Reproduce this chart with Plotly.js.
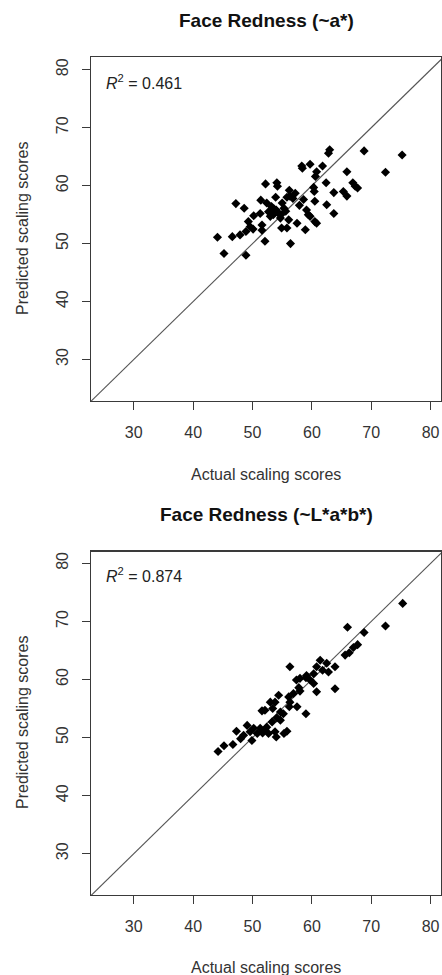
<!DOCTYPE html>
<html>
<head>
<meta charset="utf-8">
<script src="https://cdn.plot.ly/plotly-3.0.1.min.js"></script>
<style>html,body{margin:0;padding:0;background:#fff;}#chart{width:442px;height:975px;}</style>
</head>
<body>
<div id="chart"></div>
<script>
// Panel titles and R² labels
const panelTitles = ["Face Redness (~a*)", "Face Redness (~L*a*b*)"];
const r2Values = ["0.461", "0.874"];
const tickVals = [30, 40, 50, 60, 70, 80];
const identityLine = [0, 100];

// Top panel (~a*)
const topActual = [63.0,62.8,68.8,75.2,58.3,58.4,59.7,61.8,60.8,60.6,65.9,72.4,52.2,54.1,54.2,62.4,60.3,60.4,56.2,57.2,56.3,66.9,67.3,67.7,63.7,65.3,65.9,53.9,51.4,47.2,48.6,52.4,53.2,55.0,55.3,57.9,59.1,60.5,62.5,63.7,50.2,51.3,52.7,53.5,54.4,53.0,54.7,56.1,49.3,49.6,51.6,48.9,50.1,51.6,54.9,55.8,57.5,58.9,59.7,60.5,60.8,47.9,44.1,46.6,52.1,56.4,45.2,48.9,54.0,55.6,53.6,54.8,56.8,58.6,55.8,59.4];
const topPredicted = [66.2,65.6,66.0,65.3,63.4,63.0,63.7,63.4,62.4,61.6,62.4,62.3,60.3,60.5,59.9,60.5,59.7,59.0,59.2,58.7,58.2,60.5,59.9,59.6,58.8,59.0,58.2,58.0,57.5,56.9,56.1,57.0,56.4,57.0,56.1,56.6,55.8,57.3,56.7,55.2,54.8,55.2,55.5,55.0,55.2,54.7,54.4,54.1,53.8,52.9,53.2,52.1,52.5,52.3,52.7,52.7,53.5,52.4,54.7,53.8,53.5,51.5,51.1,51.2,50.4,50.0,48.3,48.0,55.8,55.6,56.0,55.0,57.8,57.6,58.0,55.0];

// Bottom panel (~L*a*b*)
const bottomActual = [75.3,72.4,66.0,68.8,67.7,67.0,65.6,66.3,56.3,61.4,62.5,60.8,63.9,62.8,60.3,59.1,58.0,59.7,60.3,57.4,60.8,63.9,58.0,56.9,54.4,53.0,53.8,56.1,56.3,56.2,57.5,51.6,52.1,54.7,55.2,59.0,54.1,53.3,54.7,49.1,50.2,51.3,52.4,51.7,47.3,48.5,49.6,50.8,53.8,55.8,55.3,54.0,49.9,48.0,46.7,45.2,44.2,52.1,52.7,59.0,61.8,57.8,53.4];
const bottomPredicted = [73.1,69.2,69.0,68.1,66.0,65.5,64.2,64.6,62.2,63.3,62.8,62.2,62.2,61.3,61.0,60.7,60.2,59.9,59.3,59.9,57.9,58.4,58.0,57.6,57.3,56.1,56.1,57.0,56.1,55.3,55.3,54.6,54.7,54.4,54.1,54.1,53.4,52.7,53.0,52.1,51.6,51.6,51.8,50.8,51.1,50.4,51.0,50.7,51.0,51.1,50.7,50.1,49.5,49.8,48.8,48.6,47.6,51.3,50.7,60.3,61.6,58.6,55.0];

const W = 442, H = 975;
const px = v => v / W;
const py = v => 1 - v / H;

const FONT = "Arial, 'Liberation Sans', sans-serif";
const AX = '#3a3a3a';

function axisBase(domain, range, isY) {
  return {
    domain: domain, range: range, autorange: false,
    showgrid: false, zeroline: false,
    showline: true, mirror: true, linecolor: AX, linewidth: 1.3,
    ticks: 'outside', ticklen: 8, tickwidth: 1.2, tickcolor: AX,
    ticklabelstandoff: isY ? 7 : 8,
    tickmode: 'array', tickvals: tickVals,
    tickfont: {family: FONT, size: 16, color: '#333'},
    tickangle: isY ? -90 : 0,
    automargin: false, fixedrange: true
  };
}

const marker = {symbol: 'diamond', size: 7, color: '#000', line: {width: 0}};
const lineStyle = {color: '#555', width: 1.1};

const data = [
  {x: identityLine, y: identityLine, mode: 'lines', line: lineStyle, xaxis: 'x', yaxis: 'y', hoverinfo: 'skip'},
  {x: topActual, y: topPredicted, mode: 'markers', marker: marker, xaxis: 'x', yaxis: 'y'},
  {x: identityLine, y: identityLine, mode: 'lines', line: lineStyle, xaxis: 'x2', yaxis: 'y2', hoverinfo: 'skip'},
  {x: bottomActual, y: bottomPredicted, mode: 'markers', marker: marker, xaxis: 'x2', yaxis: 'y2'}
];

const xDom = [px(91), px(441)];
const layout = {
  width: W, height: H,
  margin: {l: 0, r: 0, t: 0, b: 0},
  paper_bgcolor: '#fff', plot_bgcolor: '#fff',
  showlegend: false,
  xaxis: Object.assign(axisBase(xDom, [22.8, 81.75], false), {anchor: 'y'}),
  yaxis: Object.assign(axisBase([py(401), py(57)], [22.84, 82.2], true), {anchor: 'x'}),
  xaxis2: Object.assign(axisBase(xDom, [22.8, 81.75], false), {anchor: 'y2'}),
  yaxis2: Object.assign(axisBase([py(895), py(551.7)], [22.9, 82.0], true), {anchor: 'x2'}),
  annotations: [
    {text: '<b>' + panelTitles[0] + '</b>', x: px(266), y: py(21), xref: 'paper', yref: 'paper', showarrow: false, xanchor: 'center', yanchor: 'middle', font: {family: FONT, size: 19, color: '#111'}},
    {text: '<b>' + panelTitles[1] + '</b>', x: px(266), y: py(514), xref: 'paper', yref: 'paper', showarrow: false, xanchor: 'center', yanchor: 'middle', font: {family: FONT, size: 19, color: '#111'}},
    {text: 'Actual scaling scores', x: px(266), y: py(474), xref: 'paper', yref: 'paper', showarrow: false, xanchor: 'center', yanchor: 'middle', font: {family: FONT, size: 16, color: '#333'}},
    {text: 'Actual scaling scores', x: px(266), y: py(967), xref: 'paper', yref: 'paper', showarrow: false, xanchor: 'center', yanchor: 'middle', font: {family: FONT, size: 16, color: '#333'}},
    {text: 'Predicted scaling scores', x: px(22), y: py(229), xref: 'paper', yref: 'paper', showarrow: false, textangle: -90, xanchor: 'center', yanchor: 'middle', font: {family: FONT, size: 16, color: '#333'}},
    {text: 'Predicted scaling scores', x: px(22), y: py(723), xref: 'paper', yref: 'paper', showarrow: false, textangle: -90, xanchor: 'center', yanchor: 'middle', font: {family: FONT, size: 16, color: '#333'}},
    {text: '<i>R</i><sup>2</sup> = ' + r2Values[0], x: px(104), y: py(82), xref: 'paper', yref: 'paper', showarrow: false, xanchor: 'left', yanchor: 'middle', font: {family: FONT, size: 16, color: '#222'}},
    {text: '<i>R</i><sup>2</sup> = ' + r2Values[1], x: px(104), y: py(575), xref: 'paper', yref: 'paper', showarrow: false, xanchor: 'left', yanchor: 'middle', font: {family: FONT, size: 16, color: '#222'}}
  ]
};

Plotly.newPlot('chart', data, layout, {staticPlot: true, displayModeBar: false});
</script>
</body>
</html>
